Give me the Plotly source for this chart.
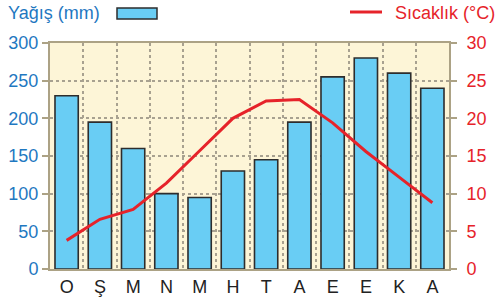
import plotly.graph_objects as go

months = ["O", "Ş", "M", "N", "M", "H", "T", "A", "E", "E", "K", "A"]
rain_mm = [230, 195, 160, 100, 95, 130, 145, 195, 255, 280, 260, 240]
temp_c = [3.8, 6.6, 7.9, 11.4, 15.7, 20.0, 22.3, 22.5, 19.4, 15.6, 12.2, 8.8]
rain_ticks = [0, 50, 100, 150, 200, 250, 300]
temp_ticks = [0, 5, 10, 15, 20, 25, 30]

x_idx = list(range(len(months)))

FONT = "Liberation Sans, Arial, sans-serif"
AXIS_COL = "#aca285"
GRID_COL = "#a8a190"
BLUE_TXT = "#1f78c1"
RED = "#e6232a"

W, H = 496, 301
PL, PR, PT, PB = 50, 449, 43, 269   # plot box in page pixels
L, T = PL, PT
R, B = W - PR, H - PB
PW, PH = W - L - R, H - T - B


def px(x):
    return (x - PL) / PW


def py(y):
    return (PB - y) / PH


fig = go.Figure()
fig.add_trace(go.Bar(
    x=x_idx, y=rain_mm, yaxis="y",
    marker=dict(color="#69cdf4", line=dict(color="#2d2d2d", width=1.6)),
    showlegend=False,
))
fig.add_trace(go.Scatter(
    x=x_idx, y=temp_c, yaxis="y2", mode="lines",
    line=dict(color=RED, width=3),
    showlegend=False,
))

fig.update_layout(
    width=W, height=H,
    margin=dict(l=L, r=R, t=T, b=B),
    paper_bgcolor="white",
    plot_bgcolor="#fdf5d7",
    bargap=0.3,
    font=dict(family=FONT, size=18, color="#222"),
    xaxis=dict(
        type="category", automargin=False,
        tickmode="array", tickvals=x_idx, ticktext=months,
        tickson="boundaries", ticks="", ticklen=0,
        showgrid=True, gridcolor=GRID_COL, griddash="dot", gridwidth=1.5,
        showline=True, linecolor=AXIS_COL, linewidth=2, mirror=True,
        range=[-0.5, 11.5],
        tickfont=dict(size=18, color="#222"),
        zeroline=False,
    ),
    yaxis=dict(
        range=[0, 300], tickvals=rain_ticks, automargin=False,
        showgrid=True, gridcolor=GRID_COL, griddash="dot", gridwidth=1.5,
        showline=True, linecolor=AXIS_COL, linewidth=2,
        ticks="outside", ticklen=6, tickwidth=2, tickcolor=AXIS_COL,
        tickfont=dict(size=18, color=BLUE_TXT),
        zeroline=False,
    ),
    yaxis2=dict(
        range=[0, 30], tickvals=temp_ticks, overlaying="y", side="right",
        automargin=False,
        showgrid=False,
        showline=True, linecolor=AXIS_COL, linewidth=2,
        ticks="outside", ticklen=6, tickwidth=2, tickcolor=AXIS_COL,
        tickfont=dict(size=18, color=RED),
        ticklabelstandoff=6,
        zeroline=False,
    ),
    showlegend=False,
)

# legend drawn manually
fig.add_annotation(xref="paper", yref="paper", x=px(6), y=py(13), text="Yağış (mm)",
                   showarrow=False, xanchor="left", yanchor="middle",
                   font=dict(size=18, color=BLUE_TXT, family=FONT))
fig.add_shape(type="rect", xref="paper", yref="paper",
              x0=px(117), x1=px(157), y0=py(19), y1=py(8),
              fillcolor="#69cdf4", line=dict(color="#2d2d2d", width=1.5))
fig.add_shape(type="line", xref="paper", yref="paper",
              x0=px(350), x1=px(382), y0=py(12), y1=py(12),
              line=dict(color=RED, width=3))
fig.add_annotation(xref="paper", yref="paper", x=px(393), y=py(13), text="Sıcaklık (°C)",
                   showarrow=False, xanchor="left", yanchor="middle",
                   font=dict(size=18, color=RED, family=FONT))

fig.write_html("out.html",
               config={"displayModeBar": False},
               post_script="document.body.style.margin='0';document.body.style.overflow='hidden';")
